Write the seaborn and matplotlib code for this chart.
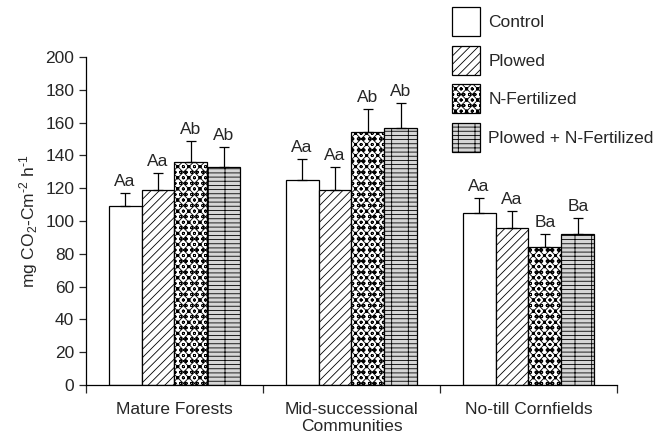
import numpy as np
import pandas as pd
import matplotlib
matplotlib.use("Agg")
import matplotlib.pyplot as plt
from matplotlib.patches import Patch
import seaborn as sns

sites = ["Mature Forests", "Mid-successional\nCommunities", "No-till Cornfields"]
treatments = ["Control", "Plowed", "N-Fertilized", "Plowed + N-Fertilized"]

# mean flux per site, ordered by treatment
flux_mature = [109, 119, 136, 133]
flux_mid = [125, 119, 154, 157]
flux_notill = [105, 96, 84, 92]

# standard error (upper bar only)
se_mature = [8, 10, 13, 12]
se_mid = [13, 14, 14, 15]
se_notill = [9, 10, 8, 10]

# significance letters
letters_mature = ["Aa", "Aa", "Ab", "Ab"]
letters_mid = ["Aa", "Aa", "Ab", "Ab"]
letters_notill = ["Aa", "Aa", "Ba", "Ba"]

rows = []
for site, vals, errs, labs in zip(sites,
                                   [flux_mature, flux_mid, flux_notill],
                                   [se_mature, se_mid, se_notill],
                                   [letters_mature, letters_mid, letters_notill]):
    for t, v, e, l in zip(treatments, vals, errs, labs):
        rows.append({"site": site, "treatment": t, "flux": v, "se": e, "letter": l})
df = pd.DataFrame(rows)

sns.set_theme(style="ticks")
plt.rcParams["font.family"] = ["Liberation Sans", "DejaVu Sans"]
plt.rcParams["mathtext.fontset"] = "custom"
plt.rcParams["mathtext.rm"] = "Liberation Sans"
plt.rcParams["mathtext.it"] = "Liberation Sans"
plt.rcParams["hatch.linewidth"] = 0.6
plt.rcParams["hatch.color"] = "black"

FS = 12.5

fig = plt.figure(figsize=(6.63, 4.34), dpi=100)
ax = fig.add_axes([0.1297, 0.1129, 0.9306 - 0.1297, 0.8687 - 0.1129])

styles = {
    "Control": dict(face="white", hatch=""),
    "Plowed": dict(face="white", hatch="////"),
    "N-Fertilized": dict(face="white", hatch="xxxooo"),
    "Plowed + N-Fertilized": dict(face="#d6d6d6", hatch="----|"),
}

sns.barplot(data=df, x="site", y="flux", hue="treatment", order=sites,
            hue_order=treatments, errorbar=None, width=0.745, dodge=True,
            palette=["white"] * 4, edgecolor="black", linewidth=0.9,
            legend=False, ax=ax)

# style each container by treatment and add error bars + letters
for cont, t in zip(ax.containers, treatments):
    sub = df[df.treatment == t].set_index("site").loc[sites]
    for bar, (_, r) in zip(cont.patches, sub.iterrows()):
        bar.set_facecolor(styles[t]["face"])
        bar.set_hatch(styles[t]["hatch"])
        bar.set_edgecolor("black")
        xc = bar.get_x() + bar.get_width() / 2
        ax.errorbar(xc, r.flux, yerr=[[0], [r.se]], fmt="none", ecolor="black",
                    elinewidth=0.9, capsize=3.5, capthick=0.9)
        ax.text(xc, r.flux + r.se + 2.5, r.letter, ha="center", va="bottom",
                fontsize=FS)

ax.set_ylim(0, 200)
ax.set_xlim(-0.5, 2.5)
ax.set_yticks(np.arange(0, 201, 20))
ax.tick_params(axis="y", labelsize=FS, length=5, width=0.9, direction="out")
ax.set_xticks(range(3))
ax.set_xticklabels(sites, fontsize=FS)
ax.tick_params(axis="x", length=0, pad=12)
ax.set_xticks([-0.5, 0.5, 1.5, 2.5], minor=True)
ax.tick_params(axis="x", which="minor", length=6, width=0.9, direction="out")
ax.set_xlabel("")
ax.set_ylabel(r"mg CO$_2$-Cm$^{\text{-2}}$ h$^{\text{-1}}$", fontsize=FS, labelpad=4)
sns.despine(ax=ax)
for s in ["left", "bottom"]:
    ax.spines[s].set_linewidth(0.9)
    ax.spines[s].set_color("black")

handles = [Patch(facecolor=styles[t]["face"], hatch=styles[t]["hatch"],
                 edgecolor="black", linewidth=0.9) for t in treatments]
fig.legend(handles, treatments, loc="upper left",
           bbox_to_anchor=(452 / 663, 1 - 7 / 434), frameon=False,
           fontsize=FS, handlelength=1.6, handleheight=2.2,
           labelspacing=0.55, handletextpad=0.5, borderpad=0, borderaxespad=0)

fig.savefig("out.png", dpi=100)
